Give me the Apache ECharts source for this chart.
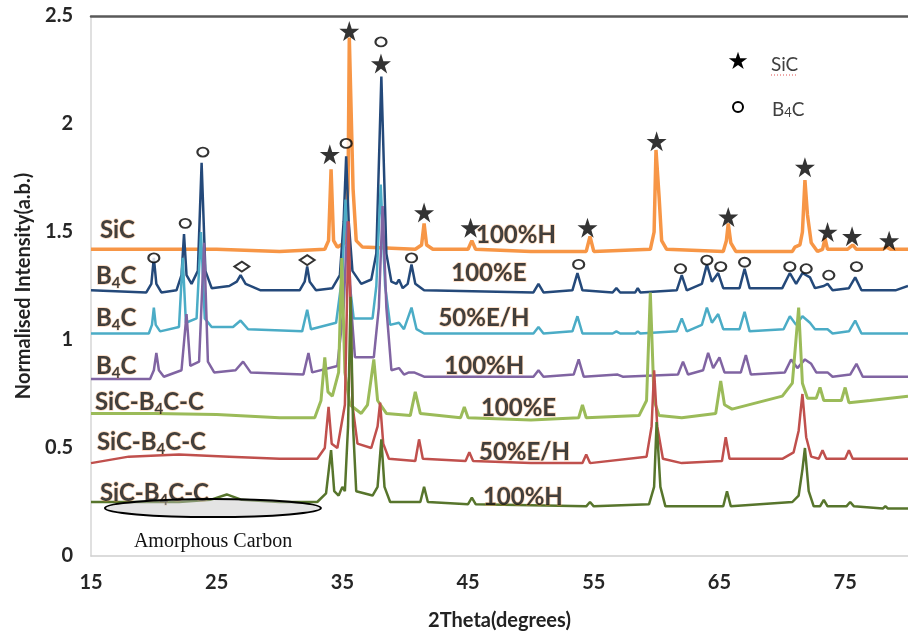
<!DOCTYPE html>
<html>
<head>
<meta charset="utf-8" />
<title>XRD patterns</title>
<script src="https://cdn.jsdelivr.net/npm/echarts@6/dist/echarts.min.js"></script>
<style>
	html, body { margin: 0; padding: 0; background: #fff; }
	#chart { width: 908px; height: 637px; }
</style>
</head>
<body>
<div id="chart"></div>
<script>
// [2theta, normalised intensity], one list per pattern
const sicH = [
	[15, 1.42], [20, 1.42], [25, 1.42], [30, 1.41], [33.6, 1.42], [33.9, 1.46], [34.1, 1.79], [34.3, 1.46],
	[34.6, 1.43], [35.2, 1.45], [35.45, 1.7], [35.55, 2.4], [35.7, 2.4], [35.85, 1.7], [36.1, 1.46], [36.6, 1.43],
	[40.8, 1.42], [41.3, 1.44], [41.5, 1.54], [41.7, 1.44], [42.2, 1.42], [45.0, 1.42], [45.3, 1.46], [45.6, 1.42],
	[50, 1.41], [54.4, 1.41], [54.7, 1.48], [55.0, 1.41], [59.5, 1.42], [59.8, 1.5], [59.95, 1.88], [60.1, 1.88],
	[60.2, 1.66], [60.4, 1.46], [60.8, 1.42], [65.3, 1.41], [65.55, 1.46], [65.7, 1.54], [65.9, 1.45], [66.3, 1.41],
	[70.8, 1.41], [71.0, 1.43], [71.4, 1.44], [71.6, 1.5], [71.8, 1.74], [72.0, 1.58], [72.3, 1.45], [72.8, 1.41],
	[73.2, 1.42], [73.4, 1.47], [73.6, 1.42], [75.2, 1.42], [75.6, 1.44], [75.9, 1.42], [78.0, 1.42], [78.3, 1.43],
	[78.6, 1.42], [80, 1.42],
];
const b4cE = [
	[15, 1.23], [19.4, 1.22], [19.8, 1.26], [20.0, 1.38], [20.2, 1.26], [20.6, 1.22], [21.8, 1.23], [22.2, 1.3],
	[22.4, 1.49], [22.6, 1.3], [23.0, 1.26], [23.5, 1.32], [23.8, 1.82], [24.1, 1.32], [24.6, 1.24], [26.0, 1.25],
	[26.6, 1.27], [26.9, 1.3], [27.3, 1.26], [28.5, 1.23], [31.6, 1.23], [32.0, 1.27], [32.2, 1.34], [32.4, 1.27],
	[32.9, 1.23], [34.2, 1.24], [34.8, 1.3], [35.1, 1.55], [35.3, 1.85], [35.5, 1.55], [35.8, 1.32], [36.5, 1.26],
	[37.3, 1.28], [37.7, 1.4], [38.1, 2.22], [38.5, 1.4], [38.9, 1.27], [39.3, 1.26], [39.5, 1.28], [39.8, 1.24],
	[40.2, 1.26], [40.5, 1.35], [40.8, 1.26], [41.5, 1.23], [50.2, 1.22], [50.6, 1.26], [51.0, 1.22], [53.3, 1.23],
	[53.7, 1.31], [54.1, 1.23], [56.5, 1.22], [56.8, 1.24], [57.1, 1.22], [58.3, 1.22], [58.5, 1.24], [58.7, 1.22],
	[61.6, 1.23], [62.0, 1.3], [62.4, 1.23], [63.6, 1.26], [64.0, 1.35], [64.4, 1.27], [64.9, 1.31], [65.3, 1.24],
	[66.6, 1.24], [67.0, 1.33], [67.4, 1.24], [70.0, 1.24], [70.6, 1.31], [71.1, 1.26], [71.6, 1.31], [72.2, 1.29],
	[72.6, 1.24], [73.3, 1.25], [73.6, 1.26], [74.0, 1.23], [75.3, 1.24], [75.8, 1.29], [76.3, 1.23], [79, 1.23],
	[80, 1.25],
];
const b4cEH = [
	[15, 1.03], [19.6, 1.03], [19.85, 1.07], [20.0, 1.15], [20.15, 1.07], [20.5, 1.04], [22.0, 1.06], [22.3, 1.38],
	[22.55, 1.08], [23.4, 1.1], [23.75, 1.5], [24.05, 1.1], [24.6, 1.06], [26.3, 1.06], [26.9, 1.09], [27.5, 1.05],
	[31.8, 1.04], [32.2, 1.14], [32.5, 1.05], [34.5, 1.08], [35.0, 1.3], [35.25, 1.65], [35.5, 1.3], [35.9, 1.1],
	[37.4, 1.1], [37.7, 1.25], [38.05, 1.72], [38.4, 1.25], [38.8, 1.07], [39.5, 1.08], [39.9, 1.05], [40.5, 1.15],
	[40.9, 1.05], [41.5, 1.03], [50.2, 1.03], [50.6, 1.06], [51.0, 1.03], [53.3, 1.04], [53.7, 1.11], [54.1, 1.03],
	[56.5, 1.03], [56.8, 1.04], [57.1, 1.03], [58.3, 1.03], [58.5, 1.04], [58.7, 1.03], [61.6, 1.04], [62.0, 1.1],
	[62.4, 1.04], [63.6, 1.07], [64.0, 1.15], [64.4, 1.08], [64.9, 1.12], [65.3, 1.05], [66.6, 1.05], [67.0, 1.13],
	[67.4, 1.04], [70.1, 1.05], [70.6, 1.11], [71.1, 1.07], [71.6, 1.11], [72.2, 1.08], [72.6, 1.05], [73.6, 1.05],
	[74, 1.03], [75.3, 1.04], [75.8, 1.09], [76.3, 1.03], [80, 1.03],
];
const b4cH = [
	[15, 0.82], [19.7, 0.82], [20.0, 0.86], [20.2, 0.94], [20.4, 0.86], [20.8, 0.83], [22.2, 0.86], [22.6, 1.12],
	[22.9, 0.88], [23.6, 0.9], [24.0, 1.45], [24.3, 0.9], [24.8, 0.85], [26.5, 0.86], [27.1, 0.9], [27.7, 0.85],
	[31.9, 0.84], [32.3, 0.94], [32.6, 0.85], [34.6, 0.88], [35.1, 1.15], [35.4, 1.55], [35.7, 1.15], [36.0, 0.92],
	[37.5, 0.92], [37.9, 1.15], [38.2, 1.62], [38.5, 1.15], [38.9, 0.86], [39.5, 0.87], [39.9, 0.84], [40.3, 0.85],
	[40.7, 0.85], [41.5, 0.83], [50.2, 0.83], [50.6, 0.86], [51.0, 0.83], [53.4, 0.84], [53.8, 0.91], [54.2, 0.83],
	[56.9, 0.84], [57.3, 0.83], [61.7, 0.84], [62.1, 0.9], [62.5, 0.84], [63.7, 0.86], [64.1, 0.94], [64.5, 0.87],
	[65.0, 0.92], [65.4, 0.85], [66.7, 0.85], [67.1, 0.93], [67.5, 0.84], [70.2, 0.85], [70.7, 0.91], [71.2, 0.87],
	[71.8, 0.91], [72.3, 0.89], [72.7, 0.85], [73.6, 0.85], [74, 0.83], [75.4, 0.84], [75.9, 0.89], [76.4, 0.83],
	[80, 0.83],
];
const compositeE = [
	[15, 0.66], [20, 0.66], [25, 0.655], [30, 0.64], [32.8, 0.64], [33.3, 0.72], [33.6, 0.92], [33.85, 0.76],
	[34.2, 0.74], [34.7, 0.85], [34.95, 1.38], [35.2, 0.85], [35.6, 0.7], [36.5, 0.66], [37.0, 0.7], [37.5, 0.91],
	[37.8, 0.72], [38.5, 0.66], [40.4, 0.65], [40.8, 0.76], [41.2, 0.66], [44.4, 0.64], [44.7, 0.69], [45.0, 0.64],
	[50, 0.63], [53.8, 0.64], [54.1, 0.7], [54.4, 0.64], [58.6, 0.65], [59.2, 0.72], [59.5, 1.22], [59.8, 0.72],
	[60.2, 0.65], [62, 0.64], [64.7, 0.66], [65.1, 0.81], [65.4, 0.7], [66, 0.68], [68, 0.71], [70, 0.74],
	[70.8, 0.8], [71.3, 1.15], [71.6, 0.8], [72, 0.73], [72.7, 0.73], [73.0, 0.78], [73.3, 0.72], [74.7, 0.72],
	[75.0, 0.78], [75.3, 0.71], [77, 0.72], [80, 0.74],
];
const compositeEH = [
	[15, 0.43], [18, 0.46], [22, 0.47], [26, 0.46], [30, 0.45], [33.0, 0.45], [33.6, 0.5], [33.9, 0.69],
	[34.15, 0.52], [34.6, 0.5], [35.2, 0.7], [35.5, 1.55], [35.8, 0.7], [36.2, 0.52], [37.3, 0.5], [37.8, 0.6],
	[38.0, 0.71], [38.25, 0.52], [38.7, 0.45], [40.8, 0.44], [41.1, 0.54], [41.4, 0.45], [44.8, 0.44], [45.1, 0.48],
	[45.4, 0.44], [50, 0.43], [54.1, 0.43], [54.4, 0.47], [54.7, 0.43], [59.2, 0.46], [59.6, 0.6], [59.8, 0.86],
	[60.05, 0.6], [60.5, 0.45], [62, 0.43], [65.2, 0.44], [65.5, 0.55], [65.8, 0.45], [70, 0.45], [70.9, 0.48],
	[71.3, 0.58], [71.6, 0.75], [71.9, 0.55], [72.3, 0.46], [72.9, 0.45], [73.2, 0.49], [73.5, 0.45], [75.0, 0.45],
	[75.3, 0.49], [75.6, 0.45], [80, 0.45],
];
const compositeH = [
	[15, 0.25], [22, 0.25], [24.5, 0.26], [25.8, 0.285], [27, 0.26], [30, 0.25], [33.0, 0.25], [33.7, 0.29],
	[34.1, 0.49], [34.35, 0.3], [34.7, 0.28], [35.0, 0.32], [35.2, 0.3], [35.45, 0.6], [35.65, 1.2], [35.85, 0.6],
	[36.1, 0.3], [37.4, 0.28], [37.8, 0.32], [38.1, 0.54], [38.35, 0.32], [38.8, 0.25], [41.2, 0.25], [41.5, 0.32],
	[41.8, 0.25], [45.0, 0.24], [45.3, 0.27], [45.6, 0.24], [54.4, 0.23], [54.7, 0.25], [55.0, 0.23], [59.4, 0.24],
	[59.8, 0.32], [60.0, 0.62], [60.3, 0.32], [60.7, 0.23], [65.3, 0.23], [65.6, 0.3], [65.9, 0.23], [70.8, 0.25],
	[71.3, 0.28], [71.6, 0.4], [71.8, 0.5], [72.1, 0.3], [72.5, 0.23], [73.0, 0.23], [73.3, 0.26], [73.6, 0.23],
	[75.1, 0.23], [75.4, 0.25], [75.7, 0.23], [78, 0.22], [78.2, 0.23], [78.4, 0.22], [80, 0.22],
];

// phase markers placed above the peaks
const sicPeaks = [
	[35.55, 2.43], [38.07, 2.28], [34.0, 1.86], [41.5, 1.59], [45.2, 1.52], [54.5, 1.52], [60.0, 1.92],
	[65.7, 1.57], [71.8, 1.8], [73.6, 1.5], [75.55, 1.48], [78.5, 1.46],
];
const b4cPeaks = [
	[38.07, 2.38], [35.3, 1.91], [23.9, 1.87], [22.5, 1.54], [20.0, 1.38], [40.5, 1.38], [53.8, 1.35],
	[61.9, 1.33], [64.0, 1.37], [65.1, 1.34], [67.0, 1.36], [70.6, 1.34], [71.9, 1.33], [73.7, 1.3], [75.9, 1.34],
];
const otherPeaks = [[27.0, 1.34], [32.2, 1.37]];

const sampleNames = ["SiC", "B4C", "B4C", "B4C", "SiC-B4C-C", "SiC-B4C-C", "SiC-B4C-C"];
const processNames = ["100%H", "100%E", "50%E/H", "100%H", "100%E", "50%E/H", "100%H"];
const patterns = [sicH, b4cE, b4cEH, b4cH, compositeE, compositeEH, compositeH];

// where the curve names sit, in axis units
const sampleSpots = [[15.71, 1.509], [15.39, 1.296], [15.39, 1.102], [15.39, 0.88], [15.31, 0.713], [15.47, 0.528], [15.71, 0.292]];
const processSpots = [[45.63, 1.486], [43.66, 1.31], [42.64, 1.102], [43.11, 0.88], [46.02, 0.685], [45.87, 0.481], [46.18, 0.273]];

const colors = ["#F79646", "#24497A", "#4BACC6", "#8064A2", "#9BBB59", "#C0504D", "#57752C"];
const widths = [3.5, 2.5, 2.5, 2.5, 3, 2.5, 2.5];

const starPath = "path://M50,0L61.8,35.1L98.9,35.1L68.9,56.8L80.3,91.9L50,70.2L19.7,91.9L31.1,56.8L1.1,35.1L38.2,35.1Z";

function richName(text) {
	return text
		.split("4")
		.map((part) => (part ? "{b|" + part + "}" : ""))
		.join("{s|4}");
}

const labelRich = {
	b: {
		fontFamily: "Lato",
		fontWeight: "bold",
		fontSize: 24,
		color: "#111",
		lineHeight: 30,
		textBorderColor: "rgba(247,150,70,0.45)",
		textBorderWidth: 1.5,
	},
	s: {
		fontFamily: "Lato",
		fontWeight: "bold",
		fontSize: 15,
		color: "#111",
		lineHeight: 15,
		verticalAlign: "bottom",
		textBorderColor: "rgba(247,150,70,0.45)",
		textBorderWidth: 1,
	},
};

const chart = echarts.init(document.getElementById("chart"), null, { renderer: "canvas" });

const lineSeries = patterns.map((pts, i) => ({
	name: processNames[i] + " " + sampleNames[i],
	type: "line",
	data: pts,
	symbol: "none",
	lineStyle: { color: colors[i], width: widths[i] },
	z: 2,
	silent: true,
}));

const labelData = sampleSpots
	.map((p, i) => [p[0], p[1], sampleNames[i]])
	.concat(processSpots.map((p, i) => [p[0], p[1], processNames[i]]));

chart.setOption({
	animation: false,
	backgroundColor: "#fff",
	grid: { left: 91, top: 16, right: -8.5, bottom: 81 },
	xAxis: [
		{
			type: "value",
			min: 15,
			max: 80,
			interval: 10,
			name: "2Theta(degrees)",
			nameLocation: "middle",
			nameGap: 55,
			nameTextStyle: { fontFamily: "Lato", fontWeight: "bold", fontSize: 20, color: "#222" },
			axisLine: { show: true, lineStyle: { color: "#cfcfcf", width: 1.5 } },
			axisTick: { show: false },
			splitLine: { show: false },
			axisLabel: {
				margin: 17,
				showMaxLabel: false,
				fontFamily: "Lato",
				fontWeight: "bold",
				fontSize: 20,
				color: "#262626",
			},
		},
		{
			type: "value",
			position: "top",
			min: 15,
			max: 80,
			axisLine: { show: true, lineStyle: { color: "#595959", width: 2.5 } },
			axisTick: { show: false },
			axisLabel: { show: false },
			splitLine: { show: false },
		},
	],
	yAxis: {
		type: "value",
		min: 0,
		max: 2.5,
		interval: 0.5,
		name: "Normalised Intensity(a.b.)",
		nameLocation: "middle",
		nameGap: 57,
		nameTextStyle: { fontFamily: "Lato", fontWeight: "bold", fontSize: 20, color: "#222" },
		axisLine: { show: true, lineStyle: { color: "#d6d6d6", width: 1.5 } },
		axisTick: { show: false },
		splitLine: { show: false },
		axisLabel: { margin: 18, fontFamily: "Lato", fontWeight: "bold", fontSize: 20, color: "#262626" },
	},
	series: lineSeries.concat([
		{
			name: "SiC",
			type: "scatter",
			data: sicPeaks,
			symbol: starPath,
			symbolSize: 20,
			itemStyle: { color: "#000" },
			z: 5,
		},
		{
			name: "B4C",
			type: "scatter",
			data: b4cPeaks,
			symbol: "circle",
			symbolSize: [11, 9],
			itemStyle: { color: "#fff", borderColor: "#000", borderWidth: 2 },
			z: 5,
		},
		{
			name: "other",
			type: "scatter",
			data: otherPeaks,
			symbol: "diamond",
			symbolSize: [15, 10],
			itemStyle: { color: "#fff", borderColor: "#000", borderWidth: 2 },
			z: 5,
		},
		{
			name: "names",
			type: "scatter",
			data: labelData,
			symbolSize: 0,
			z: 6,
			label: {
				show: true,
				position: "right",
				distance: 0,
				formatter: (p) => richName(p.value[2]),
				rich: labelRich,
			},
		},
	]),
});

// amorphous carbon ellipse, legend box
const ctr = chart.convertToPixel({ gridIndex: 0 }, [24.7, 0.222]);
chart.setOption({
	graphic: [
		{
			type: "ellipse",
			shape: { cx: ctr[0], cy: ctr[1], rx: 108, ry: 9 },
			style: { fill: "rgba(195,195,195,0.45)", stroke: "#000", lineWidth: 2 },
			z: 10,
		},
		{
			type: "text",
			left: ctr[0] - 79,
			top: 532,
			style: { text: "Amorphous Carbon", font: "20px 'Liberation Serif'", fill: "#111" },
			z: 10,
		},
		{
			type: "text",
			x: 738,
			y: 63,
			style: { text: "\u2605", font: "24px 'DejaVu Sans'", fill: "#000", align: "center", verticalAlign: "middle" },
			z: 10,
		},
		{
			type: "circle",
			shape: { cx: 738, cy: 107, r: 5 },
			style: { fill: "#fff", stroke: "#000", lineWidth: 2 },
			z: 10,
		},
		{
			type: "text",
			x: 771,
			y: 65,
			style: { text: "SiC", font: "19px Lato", fill: "#404040", verticalAlign: "middle" },
			z: 10,
		},
		{
			type: "line",
			shape: { x1: 771, y1: 75, x2: 798, y2: 75 },
			style: { stroke: "#e05050", lineWidth: 1, lineDash: [1, 2] },
			z: 10,
		},
		{
			type: "text",
			x: 772,
			y: 108,
			style: {
				text: "{a|B}{n|4}{a|C}",
				rich: {
					a: { font: "19px Lato", fill: "#404040", verticalAlign: "bottom", lineHeight: 22 },
					n: { font: "13px Lato", fill: "#404040", verticalAlign: "bottom", lineHeight: 18 },
				},
				verticalAlign: "middle",
			},
			z: 10,
		},
	],
});
</script>
</body>
</html>
